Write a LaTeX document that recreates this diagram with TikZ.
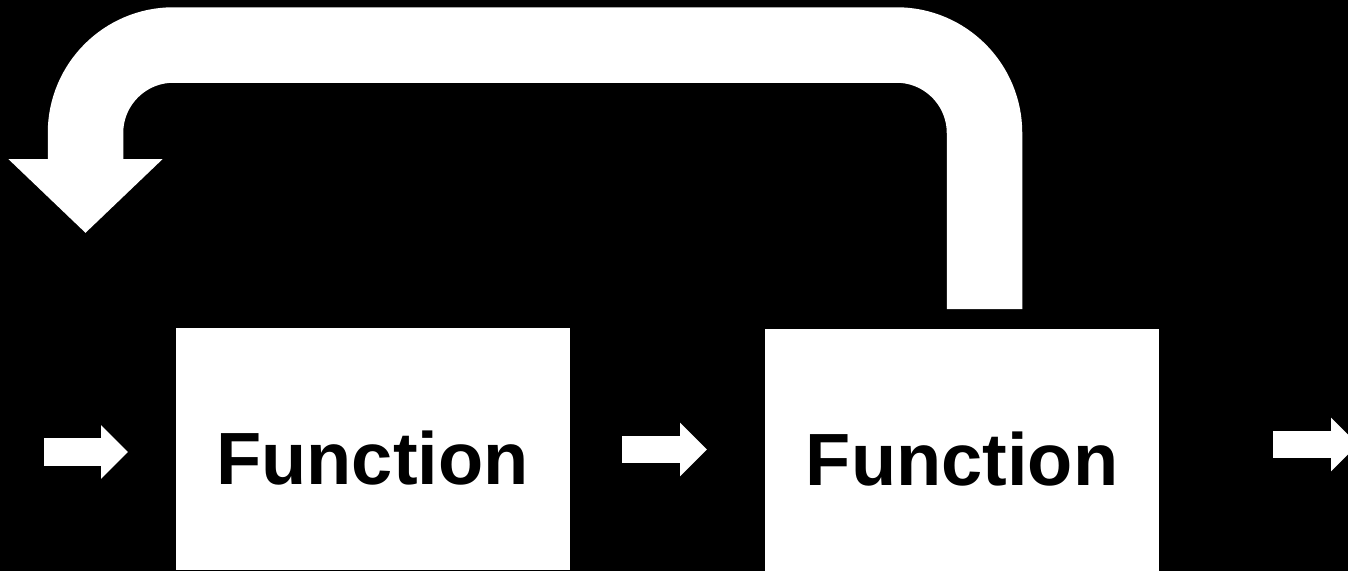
\documentclass[tikz,border=0pt]{standalone}
\usepackage{fontspec}
\setmainfont{Liberation Sans}
\usetikzlibrary{arrows.meta}
\tikzset{
  funcbox/.style={draw=none, fill=white, inner sep=0pt, minimum width=394pt, minimum height=242pt,
    text height=71pt, text depth=0pt, font=\bfseries\fontsize{74}{80}\selectfont, text=black},
  smallarrow/.style={draw=white, line width=27.5pt, -{Triangle[width=52pt,length=27pt]}},
  feedback/.style={draw=white, line width=75.5pt, rounded corners=88pt, -{Triangle[width=150pt,length=74pt]}}
}
\begin{document}
\begin{tikzpicture}[x=1pt, y=-1pt]
  \fill[black] (0,0) rectangle (1348,571);
  \useasboundingbox (0,0) rectangle (1348,571);
  \node[funcbox] (f1) at (372.5,449) {Function};
  \node[funcbox] (f2) at (962,449.5) {Function};
  % small arrows
  \coordinate (in1) at (44,452);
  \coordinate (in2) at (128,452);
  \coordinate (m1) at (622,449.5);
  \coordinate (m2) at (707,449.5);
  \coordinate (o1) at (1273,444.5);
  \coordinate (o2) at (1358,444.5);
  \draw[smallarrow] (in1) -- (in2);
  \draw[smallarrow] (m1) -- (m2);
  \draw[smallarrow] (o1) -- (o2);
  % feedback arrow
  \coordinate (fbs) at (984.5,309);
  \coordinate (fbc1) at (984.5,45);
  \coordinate (fbc2) at (85.5,45);
  \coordinate (fbtip) at (85.5,233);
  \draw[feedback] (fbs) -- (fbc1) -- (fbc2) -- (fbtip);
\end{tikzpicture}
\end{document}
